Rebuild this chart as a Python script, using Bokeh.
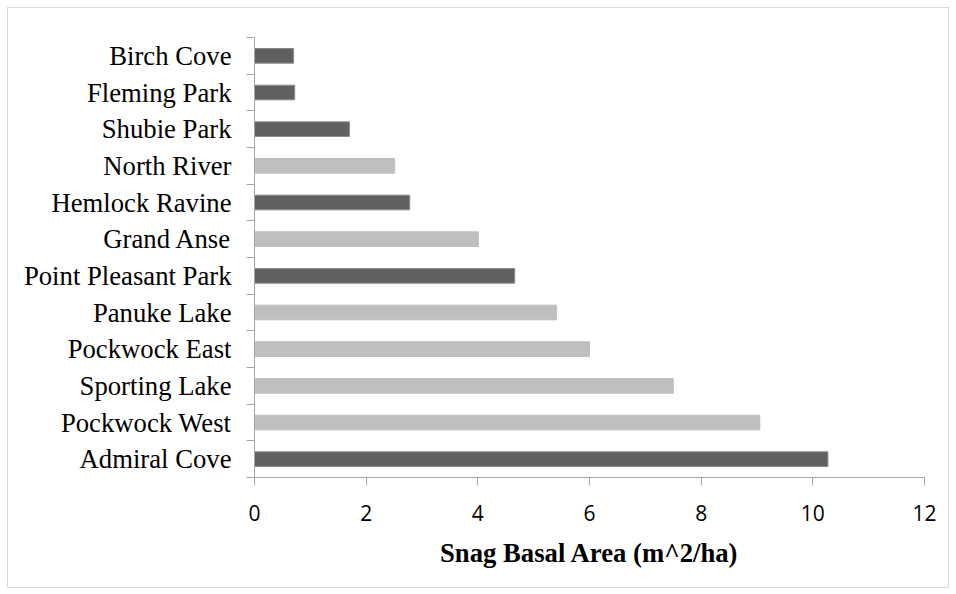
from bokeh.plotting import figure
from bokeh.models import FixedTicker, ColumnDataSource, Range1d
from bokeh.embed import file_html
from bokeh.resources import INLINE

# Data (bottom to top)
sites = ["Admiral Cove", "Pockwock West", "Sporting Lake", "Pockwock East",
         "Panuke Lake", "Point Pleasant Park", "Grand Anse", "Hemlock Ravine",
         "North River", "Shubie Park", "Fleming Park", "Birch Cove"]
snag_basal_area = [10.27, 9.05, 7.50, 6.00, 5.41, 4.66, 4.01, 2.78, 2.51, 1.70, 0.72, 0.70]
site_type = ["dark", "light", "light", "light", "light", "dark", "light", "dark",
             "light", "dark", "dark", "dark"]
x_ticks = [0, 2, 4, 6, 8, 10, 12]

palette = {"dark": "#606060", "light": "#bfbfbf"}
outline = {"dark": "#8a8a8a", "light": "#bfbfbf"}

ypos = [i + 0.5 for i in range(len(sites))]
src = ColumnDataSource(dict(
    y=ypos, v=snag_basal_area,
    fill=[palette[t] for t in site_type],
    line=[outline[t] for t in site_type],
))

p = figure(width=940, height=579, output_backend="svg", toolbar_location=None,
           x_range=Range1d(0, 12), y_range=Range1d(0, len(sites)),
           min_border_left=246, min_border_right=24, min_border_top=29,
           min_border_bottom=110)
p.margin = (8, 0, 0, 8)
p.styles = {"outline": "1px solid #d9d9d9"}
p.outline_line_color = None
p.xgrid.visible = False
p.ygrid.visible = False
p.background_fill_color = "white"
p.border_fill_color = "white"

p.hbar(y="y", right="v", left=0, height=0.4, fill_color="fill",
       line_color="line", line_width=1, source=src)

# x axis
xa = p.xaxis[0]
xa.ticker = FixedTicker(ticks=x_ticks, minor_ticks=[])
xa.axis_line_color = "#a6a6a6"
xa.major_tick_line_color = "#a6a6a6"
xa.major_tick_out = 8
xa.major_tick_in = 0
xa.minor_tick_line_color = None
xa.major_label_text_font = "Open Sans"
xa.major_label_text_font_size = "21px"
xa.major_label_text_color = "black"
xa.major_label_standoff = 19
xa.axis_label = "Snag Basal Area (m^2/ha)"
xa.axis_label_text_font = "Liberation Serif"
xa.axis_label_text_font_style = "bold"
xa.axis_label_text_font_size = "26.7px"
xa.axis_label_text_color = "black"
xa.axis_label_standoff = 14

# y axis: labels at centers, boundary ticks as minor ticks
ya = p.yaxis[0]
ya.ticker = FixedTicker(ticks=ypos, minor_ticks=list(range(len(sites) + 1)))
ya.major_label_overrides = {y: s for y, s in zip(ypos, sites)}
ya.axis_line_color = "#a6a6a6"
ya.major_tick_line_color = None
ya.major_tick_out = 0
ya.major_tick_in = 0
ya.minor_tick_line_color = "#a6a6a6"
ya.minor_tick_out = 8
ya.minor_tick_in = 0
ya.major_label_text_font = "Liberation Serif"
ya.major_label_text_font_size = "26.7px"
ya.major_label_text_color = "black"
ya.major_label_standoff = 15

open("out.html", "w").write(file_html(p, INLINE))
